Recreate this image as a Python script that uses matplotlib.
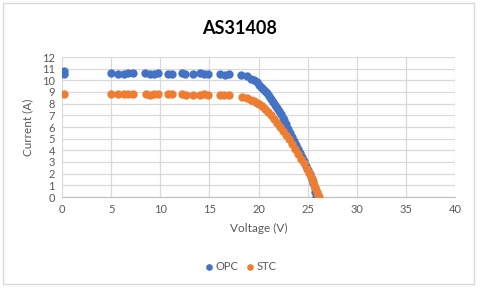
import matplotlib
matplotlib.use("Agg")
import matplotlib.pyplot as plt
from matplotlib.patches import Rectangle

title = "AS31408"
x_label = "Voltage (V)"
y_label = "Current (A)"
series_names = ["OPC", "STC"]

opc_v = [0.2, 0.2, 5.0, 5.7, 6.3, 6.75, 7.2, 8.45, 8.95, 9.35, 9.8, 10.75, 11.15,
         12.2, 12.5, 13.3, 14.05, 14.45, 14.9, 16.1, 16.6, 17.0,
         18.2, 18.8, 19.2, 19.5, 19.8, 20.1, 20.3, 20.5, 20.7, 20.9, 21.1, 21.3,
         21.5, 21.7, 21.9, 22.1, 22.3, 22.5, 22.6, 22.8, 23.0, 23.2, 23.4, 23.6, 23.8,
         24.0, 24.2, 24.4, 24.6, 24.8, 25.0, 25.2, 25.4, 25.55, 25.7, 25.8, 25.85]
opc_i = [10.55, 10.8, 10.6, 10.55, 10.55, 10.6, 10.6, 10.6, 10.55, 10.55, 10.6, 10.55, 10.55,
         10.6, 10.55, 10.55, 10.6, 10.55, 10.55, 10.55, 10.5, 10.55,
         10.5, 10.35, 10.15, 10.0, 9.85, 9.6, 9.45, 9.3, 9.1, 8.9, 8.65, 8.4,
         8.15, 7.9, 7.65, 7.4, 7.1, 6.8, 6.6, 6.25, 5.85, 5.5, 5.15, 4.8, 4.45,
         4.1, 3.75, 3.4, 3.05, 2.7, 2.35, 1.95, 1.55, 1.2, 0.8, 0.4, 0.0]

stc_v = [0.2, 5.0, 5.7, 6.3, 6.75, 7.2, 8.5, 8.95, 9.35, 9.8, 10.75, 11.15,
         12.2, 12.6, 13.3, 14.05, 14.45, 14.9, 16.1, 16.5, 17.0,
         18.3, 18.8, 19.2, 19.5, 19.8, 20.1, 20.4, 20.7, 21.0, 21.3, 21.6, 21.9,
         22.2, 22.5, 22.8, 23.1, 23.4, 23.7, 24.0, 24.3, 24.6, 24.9, 25.1, 25.3,
         25.5, 25.65, 25.8, 25.95, 26.05, 26.15]
stc_i = [8.8, 8.8, 8.8, 8.8, 8.8, 8.8, 8.8, 8.75, 8.8, 8.8, 8.8, 8.8,
         8.8, 8.75, 8.75, 8.75, 8.8, 8.75, 8.75, 8.75, 8.75,
         8.6, 8.5, 8.35, 8.25, 8.1, 7.95, 7.8, 7.55, 7.3, 7.0, 6.7, 6.35,
         6.0, 5.7, 5.3, 4.95, 4.55, 4.15, 3.7, 3.3, 2.9, 2.4, 2.05, 1.7,
         1.35, 1.05, 0.75, 0.45, 0.2, 0.0]

x_ticks = list(range(0, 41, 5))
y_ticks = list(range(0, 13, 1))

font = ["Lato", "DejaVu Sans"]
plt.rcParams['font.family'] = font
gray = "#595959"

fig = plt.figure(figsize=(4.8, 2.9), dpi=100)
fig.patches.append(Rectangle((3/480, 6/290), 471/480, 281/290, transform=fig.transFigure,
                             fill=False, edgecolor="#D9D9D9", linewidth=1.0))
ax = fig.add_axes([62/480, 1-197/290, (455-62)/480, (197-57)/290])

ax.scatter(opc_v, opc_i, s=36, color="#4472C4", label=series_names[0], zorder=3, linewidths=0)
ax.scatter(stc_v, stc_i, s=36, color="#ED7D31", label=series_names[1], zorder=3, linewidths=0)

ax.set_xlim(0, 40)
ax.set_ylim(0, 12)
ax.set_xticks(x_ticks)
ax.set_yticks(y_ticks)
ax.grid(True, color="#D9D9D9", linewidth=0.9)
ax.set_axisbelow(True)
for s in ["top", "right", "left"]:
    ax.spines[s].set_visible(False)
ax.spines["bottom"].set_color("#BFBFBF")
ax.tick_params(length=0, labelsize=8, colors=gray, pad=5)
ax.set_xlabel(x_label, fontsize=8.5, color=gray, labelpad=6)
ax.set_ylabel(y_label, fontsize=8.5, color=gray, labelpad=6)
fig.suptitle(title, x=0.5, y=1-28/290, va="center", fontsize=13, fontweight="bold", color="black")

fig.legend(loc="center", bbox_to_anchor=(0.5, 1-266/290), ncol=2, frameon=False,
           fontsize=8, labelcolor=gray, handletextpad=0.1, columnspacing=0.6,
           markerscale=0.8, handlelength=1.0)

fig.savefig("out.png", dpi=100)
